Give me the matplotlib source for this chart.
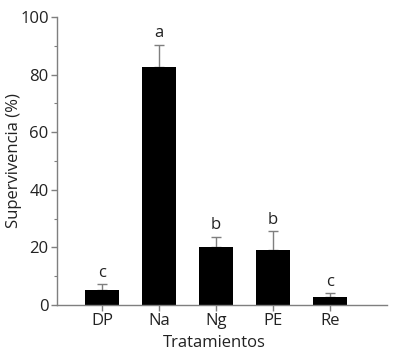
import matplotlib
matplotlib.use("Agg")
import matplotlib.pyplot as plt
from matplotlib.ticker import MultipleLocator

categories = ["DP", "Na", "Ng", "PE", "Re"]
values = [5.2, 82.7, 20.2, 19.1, 2.7]
errors = [2.0, 7.7, 3.5, 6.6, 1.3]
letters = ["c", "a", "b", "b", "c"]

plt.rcParams['font.family'] = ['Open Sans', 'DejaVu Sans']
fig = plt.figure(figsize=(3.94, 3.58), dpi=100)
ax = fig.add_axes([57/394, 1 - 305/358, (387-57)/394, (305-17)/358])

x = list(range(len(categories)))
gray = "#7f7f7f"
ax.bar(x, values, width=0.6, color="black", zorder=2)
ax.errorbar(x, values, yerr=[[0]*len(errors), errors], fmt="none", ecolor=gray,
            elinewidth=1.0, capsize=3.5, capthick=1.0, zorder=1)
for xi, v, e, l in zip(x, values, errors, letters):
    ax.text(xi, v + e + 1.2, l, ha="center", va="bottom", fontsize=12, color="#222222")

ax.set_xlim(-0.79, 5.0)
ax.set_ylim(0, 100)
ax.set_xticks(x)
ax.set_xticklabels(categories)
ax.yaxis.set_major_locator(MultipleLocator(20))
ax.yaxis.set_minor_locator(MultipleLocator(10))
for s in ["top", "right"]:
    ax.spines[s].set_visible(False)
for s in ["left", "bottom"]:
    ax.spines[s].set_color(gray)
    ax.spines[s].set_linewidth(1.0)
ax.tick_params(axis="both", which="major", direction="out", length=4, width=1.0,
               color=gray, labelsize=12, labelcolor="#222222", pad=2)
ax.tick_params(axis="y", which="minor", direction="out", length=2.5, width=0.8, color=gray)
ax.set_xlabel("Tratamientos", fontsize=12, color="#222222", va="center")
ax.set_ylabel("Supervivencia (%)", fontsize=12, color="#222222", va="center")
ax.xaxis.set_label_coords((214 - 57) / 330, (305 - 343) / 288)
ax.yaxis.set_label_coords((14 - 57) / 330, 0.5)

fig.savefig("out.png", dpi=100)
